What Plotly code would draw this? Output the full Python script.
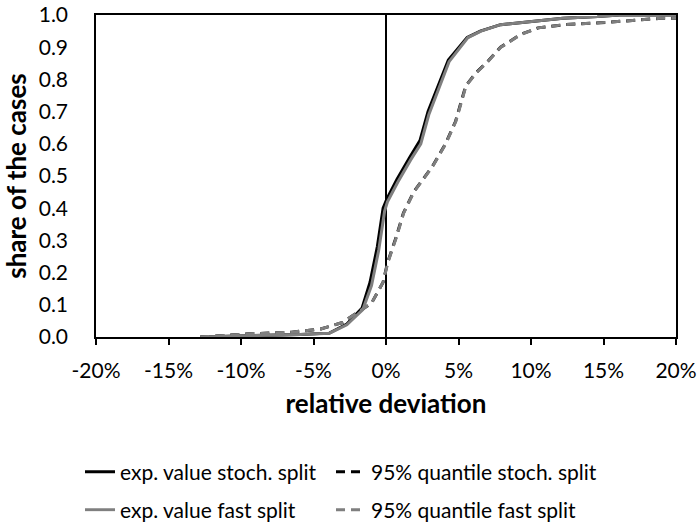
import plotly.graph_objects as go

# relative deviation (fraction) and share of cases
exp_stoch_x = [-0.128, -0.094, -0.059, -0.039, -0.027, -0.0165, -0.011, -0.006, -0.002, 0.0007,
               0.0076, 0.0166, 0.0234, 0.029, 0.035, 0.043, 0.056, 0.065, 0.079, 0.099,
               0.122, 0.146, 0.161, 0.20]
exp_stoch_y = [0.0, 0.003, 0.008, 0.012, 0.04, 0.09, 0.17, 0.28, 0.40, 0.43,
               0.49, 0.56, 0.61, 0.70, 0.77, 0.86, 0.93, 0.95, 0.97, 0.98,
               0.99, 0.995, 1.0, 1.0]

exp_fast_x = [-0.128, -0.094, -0.059, -0.039, -0.027, -0.0160, -0.010, -0.005, -0.001, 0.0010,
              0.0080, 0.0170, 0.0240, 0.0295, 0.0355, 0.0435, 0.0565, 0.0655, 0.079, 0.099,
              0.122, 0.146, 0.161, 0.20]
exp_fast_y = [0.0, 0.003, 0.008, 0.012, 0.038, 0.085, 0.16, 0.27, 0.39, 0.42,
              0.48, 0.55, 0.60, 0.69, 0.76, 0.855, 0.93, 0.95, 0.97, 0.98,
              0.99, 0.995, 1.0, 1.0]

q95_stoch_x = [-0.128, -0.094, -0.065, -0.045, -0.030, -0.018, -0.010, -0.002, 0.001, 0.007,
               0.012, 0.019, 0.032, 0.041, 0.048, 0.055, 0.062, 0.070, 0.079, 0.093,
               0.105, 0.123, 0.155, 0.19, 0.20]
q95_stoch_y = [0.0, 0.01, 0.015, 0.025, 0.045, 0.08, 0.105, 0.17, 0.23, 0.31,
               0.385, 0.45, 0.53, 0.60, 0.67, 0.78, 0.82, 0.855, 0.90, 0.94,
               0.96, 0.97, 0.978, 0.99, 0.99]

q95_fast_x = [-0.128, -0.094, -0.065, -0.045, -0.030, -0.018, -0.010, -0.002, 0.0012, 0.0072,
              0.0122, 0.0192, 0.0322, 0.0412, 0.0482, 0.0552, 0.0622, 0.0702, 0.0792, 0.0932,
              0.105, 0.123, 0.155, 0.19, 0.20]
q95_fast_y = [0.0, 0.01, 0.015, 0.025, 0.045, 0.08, 0.105, 0.17, 0.23, 0.31,
              0.385, 0.45, 0.53, 0.60, 0.67, 0.78, 0.82, 0.855, 0.90, 0.94,
              0.96, 0.97, 0.978, 0.99, 0.99]

x_ticks = [-0.20, -0.15, -0.10, -0.05, 0.0, 0.05, 0.10, 0.15, 0.20]
x_tick_labels = ["-20%", "-15%", "-10%", "-5%", "0%", "5%", "10%", "15%", "20%"]
y_ticks = [0.0, 0.1, 0.2, 0.3, 0.4, 0.5, 0.6, 0.7, 0.8, 0.9, 1.0]

FONT = "Lato"
BLACK = "#000000"
GRAY = "#7f7f7f"
DASH = "9px,6px"

fig = go.Figure()
fig.add_trace(go.Scatter(x=exp_stoch_x, y=exp_stoch_y, mode="lines", name="exp. value stoch. split",
                         line=dict(color=BLACK, width=3), legend="legend"))
fig.add_trace(go.Scatter(x=q95_stoch_x, y=q95_stoch_y, mode="lines", name="95% quantile stoch. split",
                         line=dict(color=BLACK, width=3, dash=DASH), legend="legend2"))
fig.add_trace(go.Scatter(x=exp_fast_x, y=exp_fast_y, mode="lines", name="exp. value fast split",
                         line=dict(color=GRAY, width=3), legend="legend3"))
fig.add_trace(go.Scatter(x=q95_fast_x, y=q95_fast_y, mode="lines", name="95% quantile fast split",
                         line=dict(color=GRAY, width=3, dash=DASH), legend="legend4"))

legend_common = dict(orientation="h", xref="container", yref="container",
                     xanchor="left", yanchor="middle",
                     font=dict(family=FONT, size=21, color="#000"),
                     bgcolor="rgba(0,0,0,0)", borderwidth=0)

col1_x, col2_x = 80 / 699, 331 / 699
row1_y, row2_y = 1 - 472 / 524, 1 - 510 / 524

fig.update_layout(
    width=699, height=524,
    margin=dict(l=96, r=23, t=15, b=187, autoexpand=False),
    paper_bgcolor="white", plot_bgcolor="white",
    font=dict(family=FONT, size=21, color="#000"),
    showlegend=True,
    legend=dict(x=col1_x, y=row1_y, **legend_common),
    legend2=dict(x=col2_x, y=row1_y, **legend_common),
    legend3=dict(x=col1_x, y=row2_y, **legend_common),
    legend4=dict(x=col2_x, y=row2_y, **legend_common),
    xaxis=dict(range=[-0.2, 0.2], tickvals=x_ticks, ticktext=x_tick_labels,
               showgrid=False, zeroline=True, zerolinecolor=BLACK, zerolinewidth=1.5,
               showline=True, linecolor=BLACK, linewidth=1.5, mirror=True,
               ticks="outside", ticklen=6, tickwidth=1.5, tickcolor=BLACK,
               ticklabelstandoff=8,
               tickfont=dict(family=FONT, size=21),
               title=dict(text="<b>relative deviation</b>", font=dict(family=FONT, size=26), standoff=14)),
    yaxis=dict(range=[0, 1], tickvals=y_ticks, tickformat=".1f",
               showgrid=False, zeroline=False,
               showline=True, linecolor=BLACK, linewidth=1.5, mirror=True,
               ticks="", ticklabelstandoff=22,
               tickfont=dict(family=FONT, size=21),
               title=dict(text="<b>share of the cases</b>", font=dict(family=FONT, size=26), standoff=6)),
)

fig.write_html("out.html")
